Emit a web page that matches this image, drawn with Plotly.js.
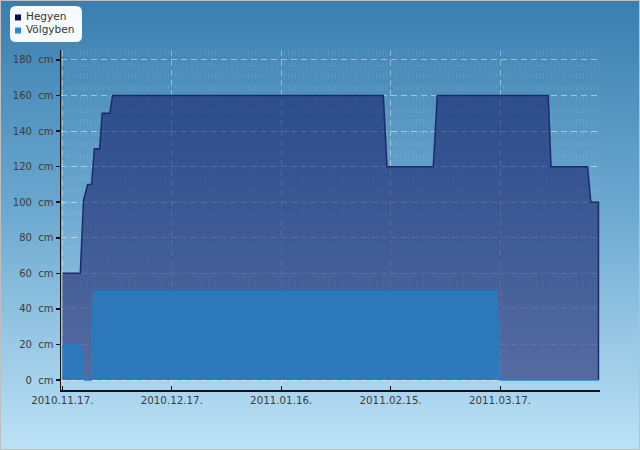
<!DOCTYPE html>
<html>
<head>
<meta charset="utf-8">
<script src="https://cdn.plot.ly/plotly-3.0.1.min.js"></script>
<style>
  html, body { margin: 0; padding: 0; }
  #wrap { position: relative; width: 640px; height: 450px;
          background: linear-gradient(to bottom, #3a7eaf 0%, #6aa7cf 45%, #bde2f7 100%); overflow: hidden; }
  #chart { position: absolute; left: 0; top: 0; width: 640px; height: 450px; }
  #frame { position: absolute; left: 0; top: 0; width: 640px; height: 450px; box-sizing: border-box;
           border: 1px solid #bfbfbf; pointer-events: none; }
</style>
</head>
<body>
<div id="wrap"><div id="chart"></div><div id="frame"></div></div>
<script>
// ---- data ----
const seriesNames = ['Hegyen', 'Völgyben'];

const hegyenDates = ['2010-11-17 00:00', '2010-11-21 22:00', '2010-11-22 07:00', '2010-11-22 19:00',
  '2010-11-23 22:00', '2010-11-25 00:00', '2010-11-25 19:00', '2010-11-27 05:00', '2010-11-27 22:00',
  '2010-11-30 00:00', '2010-11-30 19:00', '2011-02-13 00:00', '2011-02-14 00:00', '2011-02-26 17:00',
  '2011-02-27 19:00', '2011-03-30 05:00', '2011-03-31 00:00', '2011-04-10 00:00', '2011-04-10 22:00',
  '2011-04-13 00:00', '2011-04-13 00:00'];
const hegyenValues = [60, 60, 78, 101, 110, 110, 130, 130, 150, 150, 160, 160, 120, 120, 160, 160, 120, 120, 100, 100, 0];

const volgybenDates = ['2010-11-17 00:00', '2010-11-22 02:00', '2010-11-23 00:00', '2010-11-24 22:00',
  '2010-11-25 03:00', '2010-11-25 14:00', '2011-03-16 05:00', '2011-03-17 00:00', '2011-04-13 00:00'];
const volgybenValues = [20, 20, 0, 0, 25, 50, 50, 0, 0];

const yTickValues = [0, 20, 40, 60, 80, 100, 120, 140, 160, 180];
const yTickSuffix = '\u00a0\u00a0cm';
const yTickLabels = yTickValues.map(v => v + yTickSuffix);
const xTickStart = '2010-11-17';
const xTickFormat = '%Y.%m.%d.';

// ---- layout helpers ----
const W = 640, H = 450, ML = 61, MR = 40, MT = 50, MB = 60;
const PW = W - ML - MR, PH = H - MT - MB;
const px = x => (x - ML) / PW;
const py = y => (H - MB - y) / PH;

function roundBox(x0, y0, x1, y1, r) {
  const P = (x, y) => px(x).toFixed(5) + ',' + py(y).toFixed(5);
  return 'M' + P(x0 + r, y0) + ' L' + P(x1 - r, y0) + ' Q' + P(x1, y0) + ' ' + P(x1, y0 + r) +
    ' L' + P(x1, y1 - r) + ' Q' + P(x1, y1) + ' ' + P(x1 - r, y1) +
    ' L' + P(x0 + r, y1) + ' Q' + P(x0, y1) + ' ' + P(x0, y1 - r) +
    ' L' + P(x0, y0 + r) + ' Q' + P(x0, y0) + ' ' + P(x0 + r, y0) + ' Z';
}

const font = { family: 'DejaVu Sans, sans-serif', size: 10, color: '#3c3c3c' };
const xfont = { family: 'DejaVu Sans, sans-serif', size: 10.3, color: '#3c3c3c' };

const traces = [
  { x: hegyenDates, y: hegyenValues, name: seriesNames[0], type: 'scatter', mode: 'lines',
    fill: 'tozeroy', fillcolor: 'rgba(12,14,92,0.52)',
    line: { color: '#1c2a6c', width: 1.5, shape: 'linear' }, showlegend: false, hoverinfo: 'skip' },
  { x: volgybenDates, y: volgybenValues, name: seriesNames[1], type: 'scatter', mode: 'lines',
    fill: 'tozeroy', fillcolor: 'rgba(40,124,192,0.86)',
    line: { color: '#2080cc', width: 1.2 }, showlegend: false, hoverinfo: 'skip' }
];

const layout = {
  width: W, height: H, autosize: false,
  margin: { l: ML, r: MR, t: MT, b: MB, pad: 0 },
  paper_bgcolor: 'rgba(0,0,0,0)', plot_bgcolor: 'rgba(0,0,0,0)',
  font: font, showlegend: false,
  xaxis: {
    type: 'date', range: ['2010-11-16 15:00', '2011-04-13 10:00'],
    tick0: xTickStart, dtick: 30 * 86400000, tickformat: xTickFormat,
    ticks: 'inside', ticklen: 4, tickcolor: '#111', tickwidth: 1,
    showline: true, linecolor: '#111', linewidth: 1.5,
    showgrid: true, gridcolor: 'rgba(255,255,255,0.4)', griddash: '6px,4px', gridwidth: 1,
    minor: { dtick: 86400000, tick0: xTickStart, showgrid: true, gridcolor: 'rgba(255,255,255,0.09)', griddash: '5px,6.5px', gridwidth: 1 },
    zeroline: false, tickfont: xfont, fixedrange: true
  },
  yaxis: {
    range: [-5.6, 185.6], tickmode: 'array', tickvals: yTickValues, ticktext: yTickLabels,
    ticks: 'outside', ticklen: 4, tickcolor: '#111', tickwidth: 1.5,
    showline: true, linecolor: '#111', linewidth: 1.5,
    showgrid: true, gridcolor: 'rgba(255,255,255,0.45)', griddash: '6px,4px', gridwidth: 1,
    zeroline: false, tickfont: font, fixedrange: true
  },
  shapes: [
    { type: 'path', xref: 'paper', yref: 'paper', path: roundBox(10, 6, 82, 42, 6),
      fillcolor: '#f7fbff', line: { width: 0 }, layer: 'above' },
    { type: 'rect', xref: 'paper', yref: 'paper', x0: px(15), x1: px(21), y0: py(14.5), y1: py(20.5),
      fillcolor: '#0b0b5e', line: { width: 0 }, layer: 'above' },
    { type: 'rect', xref: 'paper', yref: 'paper', x0: px(15), x1: px(21), y0: py(27.5), y1: py(33.5),
      fillcolor: '#1f8fd6', line: { width: 0 }, layer: 'above' }
  ],
  annotations: [
    { xref: 'paper', yref: 'paper', x: px(23.5), y: py(16.5), xanchor: 'left', yanchor: 'middle',
      text: seriesNames[0], showarrow: false, font: { family: font.family, size: 10.5, color: '#333' } },
    { xref: 'paper', yref: 'paper', x: px(23.5), y: py(29.5), xanchor: 'left', yanchor: 'middle',
      text: seriesNames[1], showarrow: false, font: { family: font.family, size: 10.5, color: '#333' } }
  ]
};

Plotly.newPlot('chart', traces, layout, { displayModeBar: false, staticPlot: true });
</script>
</body>
</html>
